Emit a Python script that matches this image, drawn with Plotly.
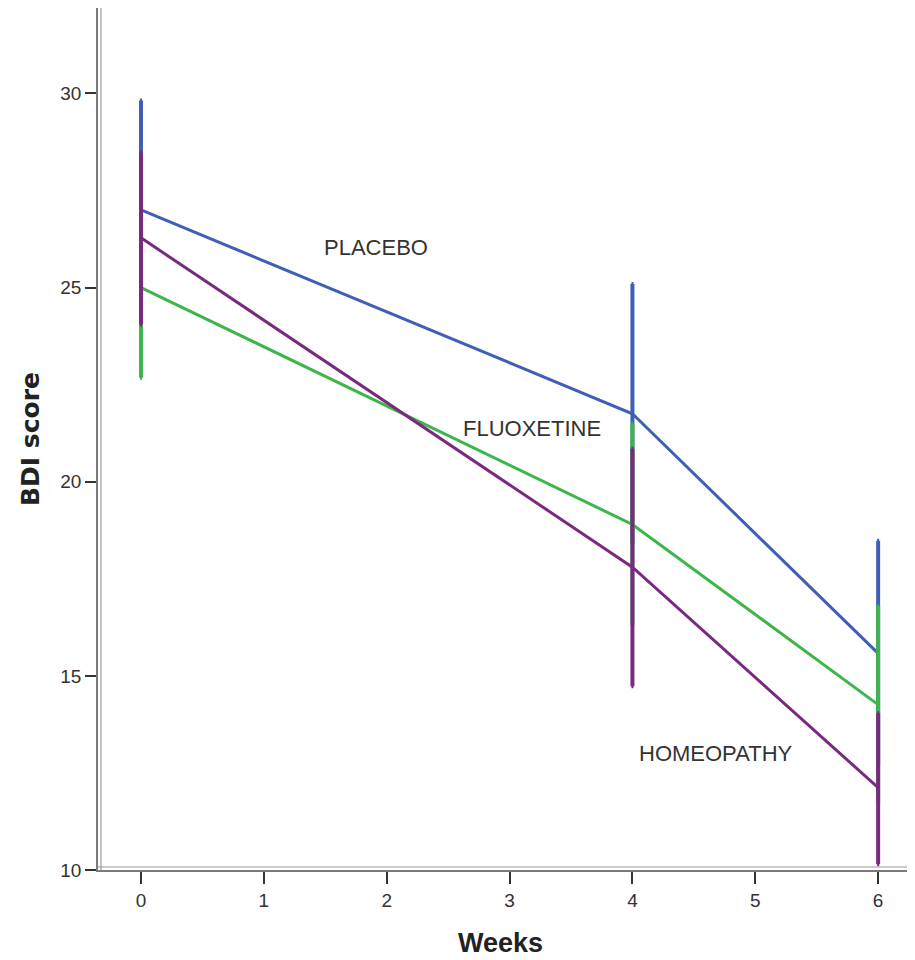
import plotly.graph_objects as go

weeks = [0, 4, 6]
placebo_mean = [27.0, 21.75, 15.58]
placebo_hi = [29.82, 25.09, 18.48]
placebo_lo = [24.18, 18.41, 12.68]
fluox_mean = [25.0, 18.9, 14.26]
fluox_hi = [27.35, 21.49, 16.79]
fluox_lo = [22.68, 16.31, 11.73]
homeo_mean = [26.28, 17.8, 12.12]
homeo_hi = [28.48, 20.85, 14.04]
homeo_lo = [24.05, 14.73, 10.15]

series = [
    ("PLACEBO", placebo_mean, placebo_hi, placebo_lo, "#3F5FB7"),
    ("FLUOXETINE", fluox_mean, fluox_hi, fluox_lo, "#3DB54A"),
    ("HOMEOPATHY", homeo_mean, homeo_hi, homeo_lo, "#7A2A7E"),
]

label_x = [1.91, 3.18, 4.68]
label_y = [26.04, 21.36, 13.0]
x_ticks = [0, 1, 2, 3, 4, 5, 6]
y_ticks = [10, 15, 20, 25, 30]

fig = go.Figure()
for name, m, hi, lo, col in series:
    fig.add_trace(go.Scatter(
        x=weeks, y=m, mode="lines", name=name,
        line=dict(color=col, width=3),
        error_y=dict(type="data", symmetric=False,
                     array=[h - v for h, v in zip(hi, m)],
                     arrayminus=[v - l for v, l in zip(m, lo)],
                     color=col, thickness=4, width=1),
        showlegend=False, hoverinfo="skip"))

for (name, *_), lx, ly in zip(series, label_x, label_y):
    fig.add_annotation(x=lx, y=ly, text=name, showarrow=False,
                       font=dict(family="Liberation Sans, Arial", size=22, color="#333333"))

fig.add_annotation(xref="paper", yref="paper", x=0, y=0.5, xshift=-68, xanchor="center",
                   yanchor="middle",
                   text="<b>BDI score</b>", textangle=-90, showarrow=False,
                   font=dict(family="DejaVu Sans", size=25, color="#222222"))
fig.add_annotation(xref="paper", yref="paper", x=0.5, y=0, yshift=-73, yanchor="middle",
                   xanchor="center", xshift=-6,
                   text="<b>Weeks</b>", showarrow=False,
                   font=dict(family="Liberation Sans Narrow, Liberation Sans", size=27, color="#222222"))

# inner lines of the double axis frame
fig.add_shape(type="line", xref="paper", yref="paper", xsizemode="pixel", xanchor=0,
              x0=3, x1=3, y0=0, y1=1, line=dict(color="#9a9a9a", width=1.2))
fig.add_shape(type="line", xref="paper", yref="paper", ysizemode="pixel", yanchor=0,
              y0=3, y1=3, x0=0, x1=1, line=dict(color="#9a9a9a", width=1.2))

fig.update_layout(
    width=907, height=952,
    margin=dict(l=90, r=0, t=0, b=90),
    plot_bgcolor="white", paper_bgcolor="white",
    xaxis=dict(range=[-0.35, 6.30], tickvals=x_ticks, showgrid=False, zeroline=False,
               showline=True, linecolor="#7a7a7a", linewidth=1.5,
               ticks="outside", ticklen=12, tickcolor="#333333", tickwidth=1.5,
               tickfont=dict(family="Liberation Sans Narrow, Liberation Sans", size=19, color="#333333")),
    yaxis=dict(range=[10, 32.2], tickvals=y_ticks, showgrid=False, zeroline=False,
               showline=True, linecolor="#7a7a7a", linewidth=1.5,
               ticks="outside", ticklen=11, tickcolor="#333333", tickwidth=1.5,
               tickfont=dict(family="Liberation Sans Narrow, Liberation Sans", size=19, color="#333333")),
)

fig.write_html("out.html")
